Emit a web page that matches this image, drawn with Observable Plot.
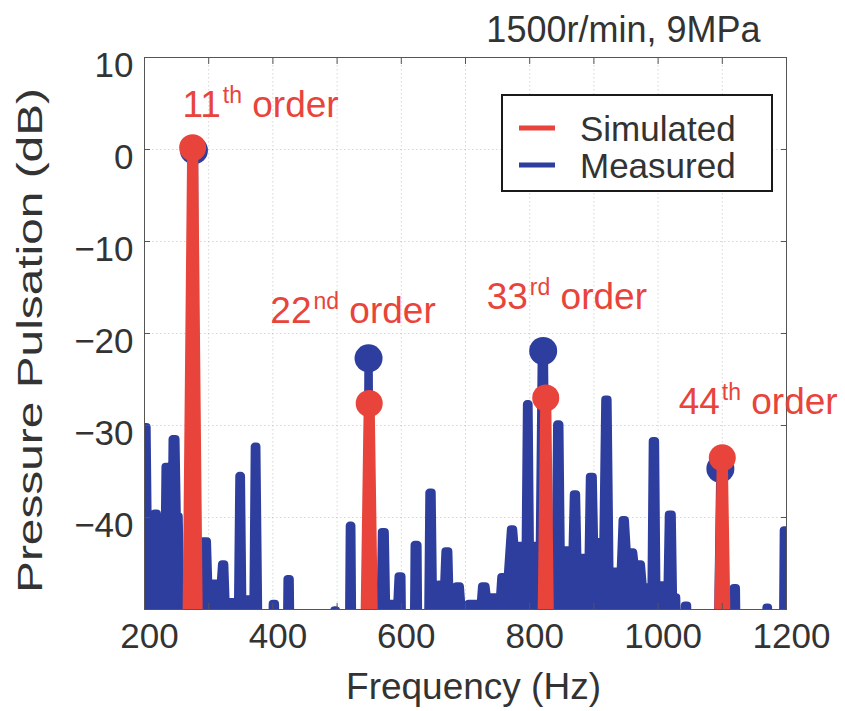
<!DOCTYPE html>
<html><head><meta charset="utf-8">
<script src="https://cdn.jsdelivr.net/npm/d3@7"></script>
<script src="https://cdn.jsdelivr.net/npm/@observablehq/plot@0.6"></script>
<style>
html,body{margin:0;padding:0;background:#fff;}
#chart{width:845px;height:711px;}
</style></head><body><div id="chart"></div>
<script>
// Measured spectrum (Hz, dB); -60 = below the visible floor
const measuredFreq = [
  196,203,205,214,216,219,221,224,226,231,233,237,239,242,244,248,250,253,255,259,262,
  266,268,275.5,277,278.5,284,
  289,291,297,299,319,321,324,326,346,348,350,352,370,372,374,377,380,398,400,403,405,421,423,426,428,
  494,496,498,500,518,520,522,524,544,547,549,551,556,566,570,574,576,594,596,600,602,619,621,625,627,
  641,644,647,649,656,658,667,669,673,675,684,686,691,693,
  696,699,702,705,724,726,731,733,754,756,766,771,774,776,794,796,798,800,816,819,822,825,841,843,846,848,
  867,869,872,874,892,894,898,900,915,918,921,924,942,945,948,951,961,963,973,976,990,992,995,997,
  1015,1017,1021,1023,1028,1031,1040,1042,1045,1047,1090,1094,1097,1100,1104,1116,1118,1121,1123,
  1167,1169,1171,1173,1194,1196,1203
];
const measuredDb = [
  -30.2,-30.2,-43.4,-43.4,-39.6,-39.6,-43.4,-43.4,-47.5,-47.5,-34.5,-34.5,-47,-47,-31.5,-31.5,-39.9,-39.9,-48,-48.5,-60,
  -60,-48,-48,-0.4,-48,-48,
  -48,-42.6,-42.6,-47.2,-47.2,-45.1,-45.1,-49.2,-49.2,-35.5,-35.5,-48.9,-48.9,-32.3,-32.3,-52,-60,-60,-49.4,-49.4,-60,-60,-46.7,-46.7,-60,
  -60,-50.1,-50.1,-60,-60,-40.9,-40.9,-60,-60,-50,-23.1,-50,-60,-60,-41.6,-41.6,-49.4,-49.4,-46.4,-46.4,-60,-60,-43,-43,-60,
  -60,-37.3,-37.3,-48.6,-48.6,-47.3,-47.3,-43.7,-43.7,-49.4,-49.4,-47.5,-47.5,-49.4,
  -52,-60,-60,-49.4,-49.4,-47.5,-47.5,-48.7,-48.7,-46.5,-46.5,-41.3,-41.3,-43.1,-43.1,-27.7,-27.7,-43.1,-43.1,-22.3,-22.3,-44,-44,-29.9,-29.9,-43.6,
  -43.6,-37.5,-37.5,-44.4,-44.4,-35.6,-35.6,-42.7,-42.7,-27.2,-27.2,-45.9,-45.9,-40.3,-40.3,-43.8,-43.8,-45.1,-45.1,-47.6,-47.6,-31.7,-31.7,-47.4,
  -47.4,-39.7,-39.7,-48.7,-48.7,-60,-60,-49.6,-49.6,-60,-60,-50,-35.1,-50,-60,-60,-47.7,-47.7,-60,
  -60,-49.8,-49.8,-60,-60,-41.4,-41.4
];
// Simulated spectrum (Hz, dB)
const simulatedFreq = [200,262,267.7,275,282.3,288,540,544.9,550,555.1,560,815,820.7,825,829.3,835,1090,1095.6,1100,1104.4,1110,1200];
const simulatedDb   = [-60,-60,-52,0.2,-52,-60,-60,-52,-27.6,-52,-60,-60,-52,-27.0,-52,-60,-60,-52,-33.5,-52,-60,-60];

const simulatedPeakFreq = [275, 550, 825, 1100];
const simulatedPeakDb   = [0.2, -27.6, -27.0, -33.5];
const measuredPeakFreq  = [277, 549, 821, 1097];
const measuredPeakDb    = [-0.1, -22.7, -21.9, -34.7];

const orderNumbers  = ["11", "22", "33", "44"];
const orderSuffixes = ["th", "nd", "rd", "th"];
const orderLabelFreq = [259, 396, 733, 1032];
const orderLabelDb   = [3.5, -18.9, -17.3, -28.7];

const xTickLabels = [200, 400, 600, 800, 1000, 1200];
const xTickMarks  = [300, 400, 500, 600, 700, 800, 900, 1000, 1100];
const xGridTicks  = [300, 400, 500, 600, 700, 800, 900, 1000, 1100];
const yTickLabels = [10, 0, -10, -20, -30, -40];
const yGridTicks  = [0, -10, -20, -30, -40];

const legendLabels = ["Simulated", "Measured"];
const titleText = "1500r/min, 9MPa";
const xTitle = "Frequency (Hz)";
const yTitle = "Pressure Pulsation (dB)";

const RED = "#e8443b";
const BLUE = "#2e3e9e";
const TXT = "#333333";
const FONT = "'Liberation Sans', Arial, Helvetica, sans-serif";

const measured = measuredFreq.map((f, i) => ({f, db: measuredDb[i]}));
const simulated = simulatedFreq.map((f, i) => ({f, db: simulatedDb[i]}));
const simPeaks = simulatedPeakFreq.map((f, i) => ({f, db: simulatedPeakDb[i]}));
const measPeaks = measuredPeakFreq.map((f, i) => ({f, db: measuredPeakDb[i]}));
const annotations = orderNumbers.map((n, i) => ({f: orderLabelFreq[i], db: orderLabelDb[i], text: n + orderSuffixes[i] + " order"}));
const FLOOR = -60;

const plot = Plot.plot({
  width: 845,
  height: 711,
  marginLeft: 144,
  marginRight: 59,
  marginTop: 57,
  marginBottom: 102,
  style: {fontFamily: FONT, color: TXT, background: "#fff", overflow: "visible"},
  x: {domain: [200, 1200], label: null},
  y: {domain: [-50, 10], label: null},
  marks: [
    Plot.gridX(xGridTicks, {stroke: "#9a9a9a", strokeOpacity: 0.4, strokeDasharray: "1.5,2.5"}),
    Plot.gridY(yGridTicks, {stroke: "#9a9a9a", strokeOpacity: 0.4, strokeDasharray: "1.5,2.5"}),
    Plot.areaY(measured, {x: "f", y1: () => FLOOR, y2: "db", fill: BLUE, clip: true}),
    Plot.line(measured, {x: "f", y: "db", stroke: BLUE, strokeWidth: 8.5, strokeLinejoin: "round", strokeLinecap: "round", clip: true}),
    Plot.dot(measPeaks, {x: "f", y: "db", r: 14, fill: BLUE}),
    Plot.line(simulated, {x: "f", y: "db", stroke: RED, strokeWidth: 11, strokeLinejoin: "round", strokeLinecap: "round", clip: true}),
    Plot.dot(simPeaks, {x: "f", y: "db", r: 13.5, fill: RED}),
    Plot.frame({stroke: "#555", strokeWidth: 1}),
    Plot.axisX(xTickMarks, {anchor: "bottom", tickSize: -6, tickFormat: () => "", stroke: "#555", label: null}),
    Plot.axisX(xTickMarks, {anchor: "top", tickSize: -6, tickFormat: () => "", stroke: "#555", label: null}),
    Plot.axisY(yGridTicks, {anchor: "left", tickSize: -6, tickFormat: () => "", stroke: "#555", label: null}),
    Plot.axisY(yGridTicks, {anchor: "right", tickSize: -6, tickFormat: () => "", stroke: "#555", label: null}),
    Plot.axisX(xTickLabels, {anchor: "bottom", tickSize: 0, tickPadding: 14, fontSize: 35, dx: 5, fill: TXT, label: null, tickFormat: d => String(d)}),
    Plot.axisY(yTickLabels, {anchor: "left", tickSize: 0, tickPadding: 11, fontSize: 35, dy: 8, fill: TXT, label: null}),
    Plot.text(annotations, {x: "f", y: "db", text: "text", textAnchor: "start", lineAnchor: "bottom", fontSize: 37, fill: RED}),
    Plot.text([titleText], {frameAnchor: "top-right", dx: -26, dy: -27, textAnchor: "end", lineAnchor: "middle", fontSize: 36, fill: TXT}),
    Plot.text([xTitle], {frameAnchor: "bottom", dx: 8, dy: 78, lineAnchor: "middle", fontSize: 37, fill: TXT}),
    Plot.text([yTitle], {frameAnchor: "left", rotate: -90, dx: -114, dy: 7, lineAnchor: "middle", textAnchor: "middle", fontSize: 35, fill: TXT})
  ]
});

const svg = d3.select(plot);
// superscripts in order labels, stretched y title
svg.selectAll("text").each(function() {
  const t = this.textContent;
  const m = t.match(/^(\d+)(st|nd|rd|th)( order)$/);
  if (m) {
    const el = d3.select(this);
    el.text(null);
    el.append("tspan").text(m[1]);
    el.append("tspan").attr("font-size", 23).attr("dy", -14).attr("dx", 2).text(m[2]);
    el.append("tspan").attr("dy", 14).text(m[3]);
  } else if (t === yTitle) {
    d3.select(this).attr("textLength", 505).attr("lengthAdjust", "spacingAndGlyphs");
  }
});

// legend
const lg = svg.append("g").attr("font-family", FONT).attr("text-anchor", "start");
lg.append("rect").attr("x", 502).attr("y", 95).attr("width", 270).attr("height", 96)
  .attr("fill", "#fff").attr("stroke", "#1a1a1a").attr("stroke-width", 2);
const legendColors = [RED, BLUE];
legendLabels.forEach((lab, i) => {
  const cy = 128 + i * 37;
  lg.append("line").attr("x1", 519).attr("x2", 555).attr("y1", cy).attr("y2", cy)
    .attr("stroke", legendColors[i]).attr("stroke-width", 5);
  lg.append("text").attr("x", 580).attr("y", cy).attr("dy", "0.36em")
    .attr("text-anchor", "start").attr("font-size", 35).attr("fill", TXT).text(lab);
});

document.getElementById("chart").appendChild(plot);
</script></body></html>
